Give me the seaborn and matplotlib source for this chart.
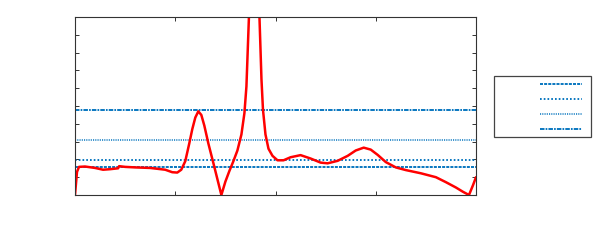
import matplotlib
matplotlib.use("Agg")
import matplotlib.pyplot as plt
import seaborn as sns
import pandas as pd
from matplotlib.lines import Line2D
from matplotlib.patches import Rectangle

sns.set_style("white")
plt.rcParams['font.family'] = ['DejaVu Sans']

# Red response curve
curve_x = [0.00, 0.02, 0.04, 0.10, 0.20, 0.28, 0.35, 0.43, 0.44, 0.50, 0.60, 0.75,
           0.90, 0.97, 1.02, 1.06, 1.10, 1.14, 1.17, 1.20, 1.23, 1.26, 1.29, 1.33,
           1.38, 1.42, 1.46, 1.50, 1.54, 1.58, 1.62, 1.66, 1.69, 1.71, 1.735, 1.76,
           1.79, 1.82, 1.84, 1.86, 1.875, 1.90, 1.93, 1.97, 2.02, 2.08, 2.15, 2.25,
           2.35, 2.45, 2.52, 2.62, 2.72, 2.80, 2.88, 2.95, 3.02, 3.10, 3.20, 3.30,
           3.45, 3.60, 3.70, 3.80, 3.87, 3.93, 3.97, 4.00]
curve_y = [0.00, 1.30, 1.58, 1.60, 1.52, 1.42, 1.45, 1.50, 1.62, 1.58, 1.55, 1.52,
           1.42, 1.28, 1.26, 1.42, 1.90, 2.90, 3.70, 4.35, 4.70, 4.50, 3.90, 2.90,
           1.80, 0.90, 0.00, 0.75, 1.35, 1.90, 2.50, 3.40, 4.60, 6.10, 10.0, 13.0,
           14.0, 12.0, 10.0, 6.5, 4.8, 3.40, 2.60, 2.20, 1.95, 1.95, 2.12, 2.24,
           2.05, 1.82, 1.78, 1.92, 2.20, 2.50, 2.66, 2.55, 2.25, 1.85, 1.55, 1.40,
           1.22, 1.00, 0.72, 0.42, 0.18, 0.00, 0.55, 1.00]

# Horizontal reference levels
ref_levels = [1.57, 1.97, 3.11, 4.79]
ref_styles = [(0, (1.6, 0.6)), (0, (0.9, 1.1)), (0, (0.6, 0.6)), (0, (2.4, 0.6, 0.9, 0.6))]
ref_alphas = [1.0, 1.0, 0.8, 1.0]
ref_labels = [" ", " ", " ", " "]

blue = "#0072BD"

fig = plt.figure(figsize=(6, 2.45), dpi=100)
ax = fig.add_axes([75/600, 50/245, 401/600, 178/245])

handles = []
for lvl, ls, a in zip(ref_levels, ref_styles, ref_alphas):
    ax.axhline(lvl, color=blue, lw=1.35, linestyle=ls, alpha=a)
    handles.append(Line2D([], [], color=blue, lw=1.35, linestyle=ls, alpha=a))

df = pd.DataFrame({"x": curve_x, "y": curve_y})
sns.lineplot(data=df, x="x", y="y", ax=ax, color="red", lw=1.8, sort=False, estimator=None)

ax.set_xlim(0, 4)
ax.set_ylim(0, 10)
ax.set_xticks([0, 1, 2, 3, 4])
ax.set_yticks(range(0, 11))
ax.tick_params(direction="in", length=3, width=0.7, colors="#333333",
               top=True, right=True, bottom=True, left=True,
               labelbottom=False, labelleft=False)
ax.set_xlabel("")
ax.set_ylabel("")
for s in ax.spines.values():
    s.set_visible(True)
    s.set_color("#333333")
    s.set_linewidth(0.8)

# legend frame
fig.add_artist(Rectangle((494/600, 108/245), 97/600, 61/245, transform=fig.transFigure,
                         fill=True, facecolor="white", edgecolor="#444444", lw=0.9))
leg = fig.legend(handles, ref_labels, loc="center right",
                 bbox_to_anchor=(581.5/600, (245 - 107)/245),
                 markerfirst=False, handlelength=3.7, fontsize=8, labelspacing=0.45,
                 frameon=False, borderpad=0, borderaxespad=0, handletextpad=0.3)

fig.savefig("out.png", dpi=100)
